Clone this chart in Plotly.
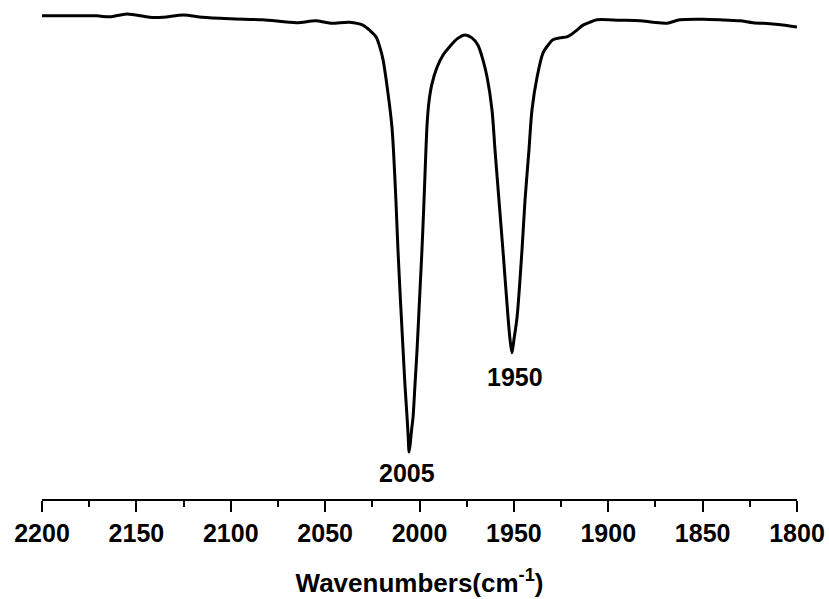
import plotly.graph_objects as go

# Wavenumber (cm^-1) and transmittance (arbitrary %)
wavenumber = [2200, 2171, 2164, 2155, 2143, 2136, 2125, 2115, 2100, 2083, 2065, 2055, 2047, 2037,
              2030, 2026, 2023, 2021, 2019.3, 2016.7, 2014.6, 2013.8, 2012.5, 2011.4, 2010.1, 2008.7,
              2007.7, 2006.6, 2005.9, 2005.6, 2005.0, 2004.2, 2003.4, 2002.4, 2001.3, 2000.0, 1998.7,
              1997.6, 1996.8, 1996.0, 1995.0, 1993.4, 1990.7, 1987.5, 1983.8, 1980.1, 1975.9, 1972.2,
              1969.0, 1966.4, 1964.2, 1961.6, 1960.0, 1957.9, 1955.8, 1953.1, 1952.0, 1951.0, 1950.0,
              1948.3, 1945.7, 1944.1, 1942.0, 1940.4, 1937.7, 1934.6, 1931.9, 1929.3, 1925.6,
              1921.9, 1919.2, 1916.6, 1913.4, 1909.7, 1906.0, 1893.8, 1883.2, 1876.3, 1868.9, 1862.0,
              1849.8, 1840.8, 1830.2, 1823.3, 1814.3, 1806.4, 1800]
transmittance = [98.8, 98.8, 98.6, 99.2, 98.5, 98.5, 99.0, 98.5, 98.2, 98.0, 97.4, 97.8, 97.3, 97.5,
                 96.9, 95.7, 94.5, 92.4, 89.8, 83.0, 76.1, 71.4, 61.1, 50.9, 40.7, 30.5,
                 23.3, 16.8, 12.1, 9.6, 11.0, 14.1, 16.8, 23.3, 30.5, 40.7, 50.9,
                 61.1, 69.3, 76.5, 81.2, 84.9, 88.3, 90.8, 92.6, 94.1, 94.9, 94.3,
                 92.8, 89.8, 86.3, 79.6, 71.4, 61.1, 50.9, 37.2, 32.5, 29.9, 32.5,
                 37.2, 50.9, 61.1, 71.4, 79.6, 86.3, 91.2, 92.8, 93.9, 94.3,
                 94.5, 95.1, 95.9, 96.9, 97.5, 98.0, 97.9, 97.8, 97.5, 97.3, 98.0,
                 98.1, 98.0, 97.8, 97.4, 97.2, 96.9, 96.5]

peak_labels = ["2005", "1950"]
peak_x = [2006.6, 1949.4]
peak_y = [5.3, 24.9]

x_ticks = [2200, 2150, 2100, 2050, 2000, 1950, 1900, 1850, 1800]

FONT = "Liberation Sans, Arial, sans-serif"

fig = go.Figure()
fig.add_trace(go.Scatter(
    x=wavenumber, y=transmittance, mode="lines",
    line=dict(color="black", width=3, shape="spline", smoothing=0.8),
    showlegend=False, hoverinfo="skip"))

for lab, xx, yy in zip(peak_labels, peak_x, peak_y):
    fig.add_annotation(x=xx, y=yy, text=lab, showarrow=False,
                       xanchor="center", yanchor="middle",
                       font=dict(family=FONT, size=25, color="black", weight="bold"))

fig.update_layout(
    width=829, height=599,
    margin=dict(l=42, r=32, t=10, b=100),
    paper_bgcolor="white", plot_bgcolor="white",
    xaxis=dict(
        range=[2200, 1800], tickvals=x_ticks, ticktext=[str(v) for v in x_ticks],
        automargin=False,
        showline=True, linecolor="black", linewidth=2, mirror=False,
        ticks="outside", ticklen=11, tickwidth=2, tickcolor="black",
        minor=dict(dtick=25, tick0=1800, ticks="outside", ticklen=6, tickwidth=2, tickcolor="black"),
        showgrid=False, zeroline=False,
        tickfont=dict(family=FONT, size=25, color="black", weight="bold"),
        title=dict(text="Wavenumbers(cm<sup>-1</sup>)", standoff=28,
                   font=dict(family=FONT, size=26, color="black", weight="bold")),
    ),
    yaxis=dict(range=[0, 100], visible=False, showgrid=False, zeroline=False),
)

fig.write_html("out.html")
